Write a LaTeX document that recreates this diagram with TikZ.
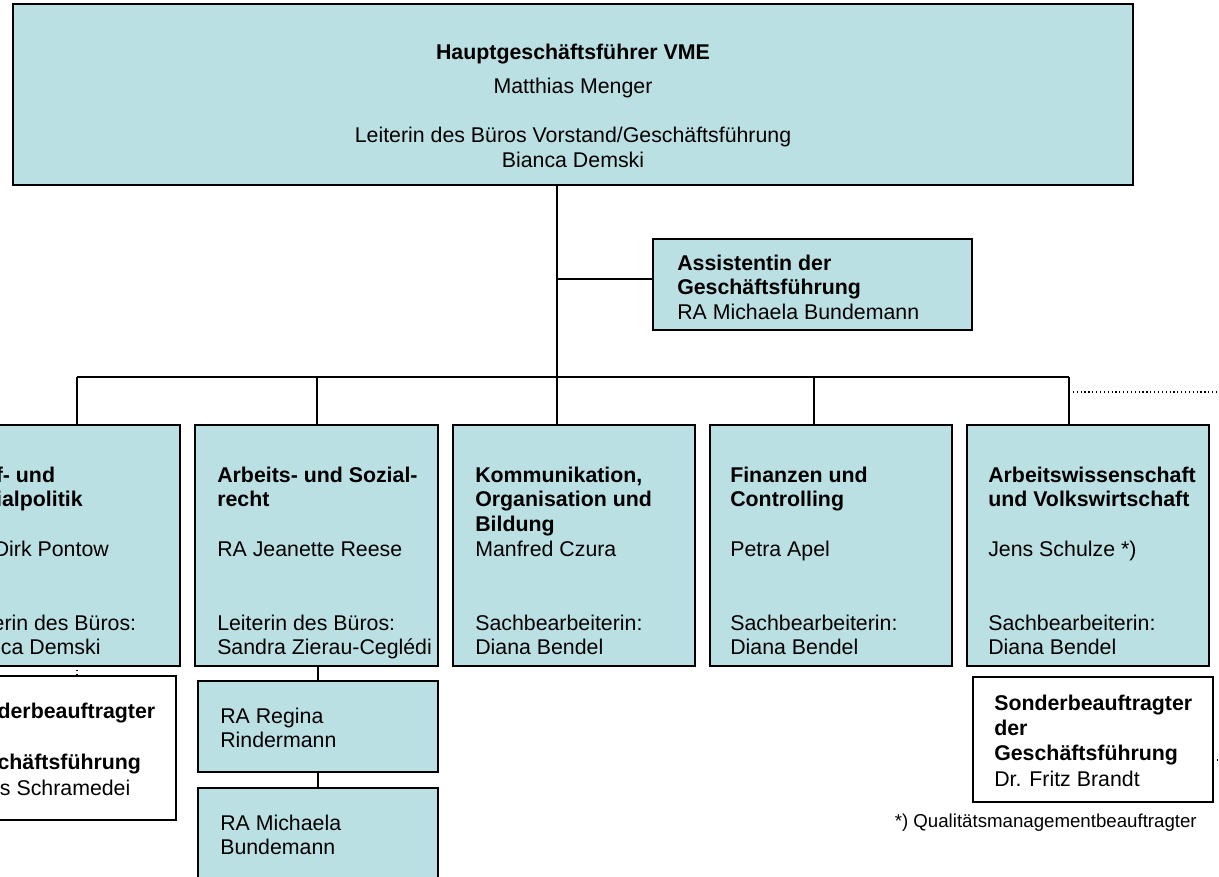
\documentclass[tikz,border=0pt]{standalone}
\usepackage{fontspec}
\setmainfont{Liberation Sans}
\definecolor{boxblue}{RGB}{187,224,227}
\begin{document}
\begin{tikzpicture}[x=0.75pt,y=-0.75pt,
  box/.style={draw=black, line width=1.5pt, fill=boxblue, inner sep=0pt, outer sep=0pt, anchor=north west},
  wbox/.style={box, fill=white},
  txt/.style={anchor=north west, yshift=11pt, inner sep=0pt, align=left,
    font=\fontsize{16}{18.5}\selectfont, execute at begin node={\rule{0pt}{14pt}}},
  stxt/.style={txt, font=\fontsize{16}{19}\selectfont},
  ctxt/.style={anchor=base, inner sep=0pt, font=\fontsize{16}{18.4}\selectfont},
  conn/.style={line width=1.1pt, black},
  dots/.style={line width=0.9pt, dotted}]
\useasboundingbox (0,0) rectangle (1219,876);
\clip (0,0) rectangle (1219,876);

% top box
\node[box, minimum width=1120*0.75pt, minimum height=181*0.75pt] (top) at (13,4) {};
\node[ctxt] (t1) at (573,59) {\textbf{Hauptgeschäftsführer VME}};
\node[ctxt] (t2) at (573,93) {Matthias Menger};
\node[ctxt] (t3) at (573,142) {Leiterin des Büros Vorstand/Geschäftsführung};
\node[ctxt] (t4) at (573,167) {Bianca Demski};

% assistant
\node[box, minimum width=319*0.75pt, minimum height=91*0.75pt] (assist) at (653,239) {};
\node[txt] (assisttxt) at (677,269) {\textbf{Assistentin der}\\\textbf{Geschäftsführung}\\RA Michaela Bundemann};

% departments
\node[box, minimum width=243*0.75pt, minimum height=241*0.75pt] (d1) at (-63,425) {};
\node[box, minimum width=243*0.75pt, minimum height=241*0.75pt] (d2) at (195,425) {};
\node[box, minimum width=242*0.75pt, minimum height=241*0.75pt] (d3) at (453,425) {};
\node[box, minimum width=242*0.75pt, minimum height=241*0.75pt] (d4) at (710,425) {};
\node[box, minimum width=242*0.75pt, minimum height=241*0.75pt] (d5) at (967,425) {};

\node[txt] (d1txt) at (-42,481) {\textbf{Tarif- und}\\\textbf{Sozialpolitik}\\[18.5pt]RA Dirk Pontow\\[37pt]Leiterin des Büros:\\Bianca Demski};
\node[txt] (d2txt) at (217,481) {\textbf{Arbeits- und Sozial-}\\\textbf{recht}\\[18.5pt]RA Jeanette Reese\\[37pt]Leiterin des Büros:\\Sandra Zierau-Ceglédi};
\node[txt] (d3txt) at (475,481) {\textbf{Kommunikation,}\\\textbf{Organisation und}\\\textbf{Bildung}\\Manfred Czura\\[37pt]Sachbearbeiterin:\\Diana Bendel};
\node[txt] (d4txt) at (730,481) {\textbf{Finanzen und}\\\textbf{Controlling}\\[18.5pt]Petra Apel\\[37pt]Sachbearbeiterin:\\Diana Bendel};
\node[txt] (d5txt) at (988,481) {\textbf{Arbeitswissenschaft}\\\textbf{und Volkswirtschaft}\\[18.5pt]Jens Schulze *)\\[37pt]Sachbearbeiterin:\\Diana Bendel};

% sub boxes under d2
\node[box, minimum width=240*0.75pt, minimum height=91*0.75pt] (r1) at (198,681) {};
\node[txt] (r1txt) at (220,722) {RA Regina\\Rindermann};
\node[box, minimum width=240*0.75pt, minimum height=92*0.75pt] (r2) at (198,788) {};
\node[txt] (r2txt) at (220,829) {RA Michaela\\Bundemann};

% special appointees
\node[wbox, minimum width=240*0.75pt, minimum height=144*0.75pt] (s1) at (-64,676) {};
\node[stxt, font=\fontsize{16}{19.3}\selectfont] (s1txt) at (-43,717) {\textbf{Sonderbeauftragter}\\\textbf{der}\\\textbf{Geschäftsführung}\\Klaus Schramedei};
\node[wbox, minimum width=240*0.75pt, minimum height=125*0.75pt] (s5) at (973,677) {};
\node[stxt] (s5txt) at (994,709) {\textbf{Sonderbeauftragter}\\\textbf{der}\\\textbf{Geschäftsführung}\\Dr. Fritz Brandt};

% footnote
\node[anchor=base east, inner sep=0pt, font=\fontsize{14}{16}\selectfont] (foot) at (1197,827) {*) Qualitätsmanagementbeauftragter};

% connectors
\coordinate (j1) at (77,377);
\coordinate (j2) at (317,377);
\coordinate (j3) at (557,377);
\coordinate (j4) at (814,377);
\coordinate (j5) at (1069,377);
\coordinate (ja) at (557,279);
\coordinate (k) at (318,0);
\coordinate (dotend) at (1219,392);
\coordinate (sdot) at (1219,760);

\draw[conn] (j3 |- top.south) -- (j3 |- d3.north);
\draw[conn] (j1) -- (j5);
\draw[conn] (j1) -- (j1 |- d1.north);
\draw[conn] (j2) -- (j2 |- d2.north);
\draw[conn] (j4) -- (j4 |- d4.north);
\draw[conn] (j5) -- (j5 |- d5.north);
\draw[conn] (ja) -- (ja -| assist.west);
\draw[conn] (k |- d2.south) -- (k |- r1.north);
\draw[conn] (k |- r1.south) -- (k |- r2.north);
\draw[dots] (j5 |- dotend) -- (dotend);
\draw[dots] (j1 |- d1.south) -- (j1 |- s1.north);
\draw[dots] (sdot -| s5.east) -- (sdot);
\end{tikzpicture}
\end{document}
